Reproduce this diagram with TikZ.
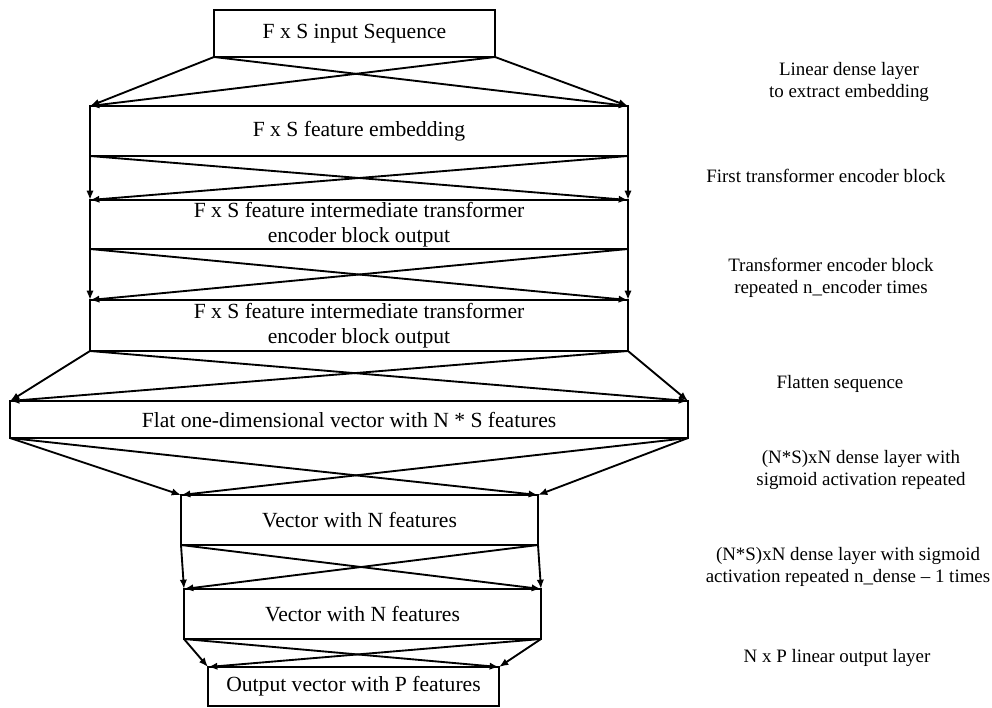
\documentclass[tikz,border=0pt]{standalone}
\usepackage{fontspec}
\setmainfont{Liberation Serif}
\usetikzlibrary{arrows.meta}

\begin{document}
\begin{tikzpicture}
    [x = 0.75pt, y = 0.75pt, line width = 1.4pt,
     box/.style = {rectangle, draw, inner sep = 0pt, outer sep = 0pt, align = center,
                   font = \fontsize{16.2}{18.75}\selectfont},
     note/.style = {align = center, font = \fontsize{14.2}{16.5}\selectfont},
     flow/.style = {-{Latex[length = 7pt, width = 5.5pt]}}]
    \useasboundingbox (0,0) rectangle (992,-707);
    % layer boxes
    \node[box, minimum width = 210.75pt, minimum height = 35.25pt] (in) at (354.5,-33.5) {F x S input Sequence};
    \node[box, minimum width = 403.5pt, minimum height = 37.5pt] (emb) at (359,-131) {F x S feature embedding};
    \node[box, minimum width = 403.5pt, minimum height = 36.75pt] (enc1) at (359,-224.5) {F x S feature intermediate transformer\\encoder block output};
    \node[box, minimum width = 403.5pt, minimum height = 38.25pt] (enc2) at (359,-325.5) {F x S feature intermediate transformer\\encoder block output};
    \node[box, minimum width = 508.5pt, minimum height = 27.75pt] (flat) at (349,-419.5) {Flat one-dimensional vector with N * S features};
    \node[box, minimum width = 267.75pt, minimum height = 37.5pt] (vec1) at (359.5,-520) {Vector with N features};
    \node[box, minimum width = 267.75pt, minimum height = 37.5pt] (vec2) at (362.5,-614) {Vector with N features};
    \node[box, minimum width = 218.25pt, minimum height = 29.25pt] (out) at (353.5,-686.5) {Output vector with P features};
    % notes on the right
    \node[note] (n1) at (849,-82) {Linear dense layer\\to extract embedding};
    \node[note] (n2) at (826,-176) {First transformer encoder block};
    \node[note] (n3) at (831,-278) {Transformer encoder block\\repeated n\_encoder times};
    \node[note] (n4) at (840,-384) {Flatten sequence};
    \node[note] (n5) at (861,-470) {(N*S)xN dense layer with\\sigmoid activation repeated};
    \node[note] (n6) at (848,-567) {(N*S)xN dense layer with sigmoid\\activation repeated n\_dense -- 1 times};
    \node[note] (n7) at (837,-658) {N x P linear output layer};
    % full connections between layers
    \foreach \from/ \to in {in/emb,emb/enc1,enc1/enc2,enc2/flat,flat/vec1,vec1/vec2,vec2/out}
      {
      \draw[flow] (\from.south west) -- (\to.north west);
      \draw[flow] (\from.south west) -- (\to.north east);
      \draw[flow] (\from.south east) -- (\to.north west);
      \draw[flow] (\from.south east) -- (\to.north east);
      }
  \end{tikzpicture}
\end{document}
